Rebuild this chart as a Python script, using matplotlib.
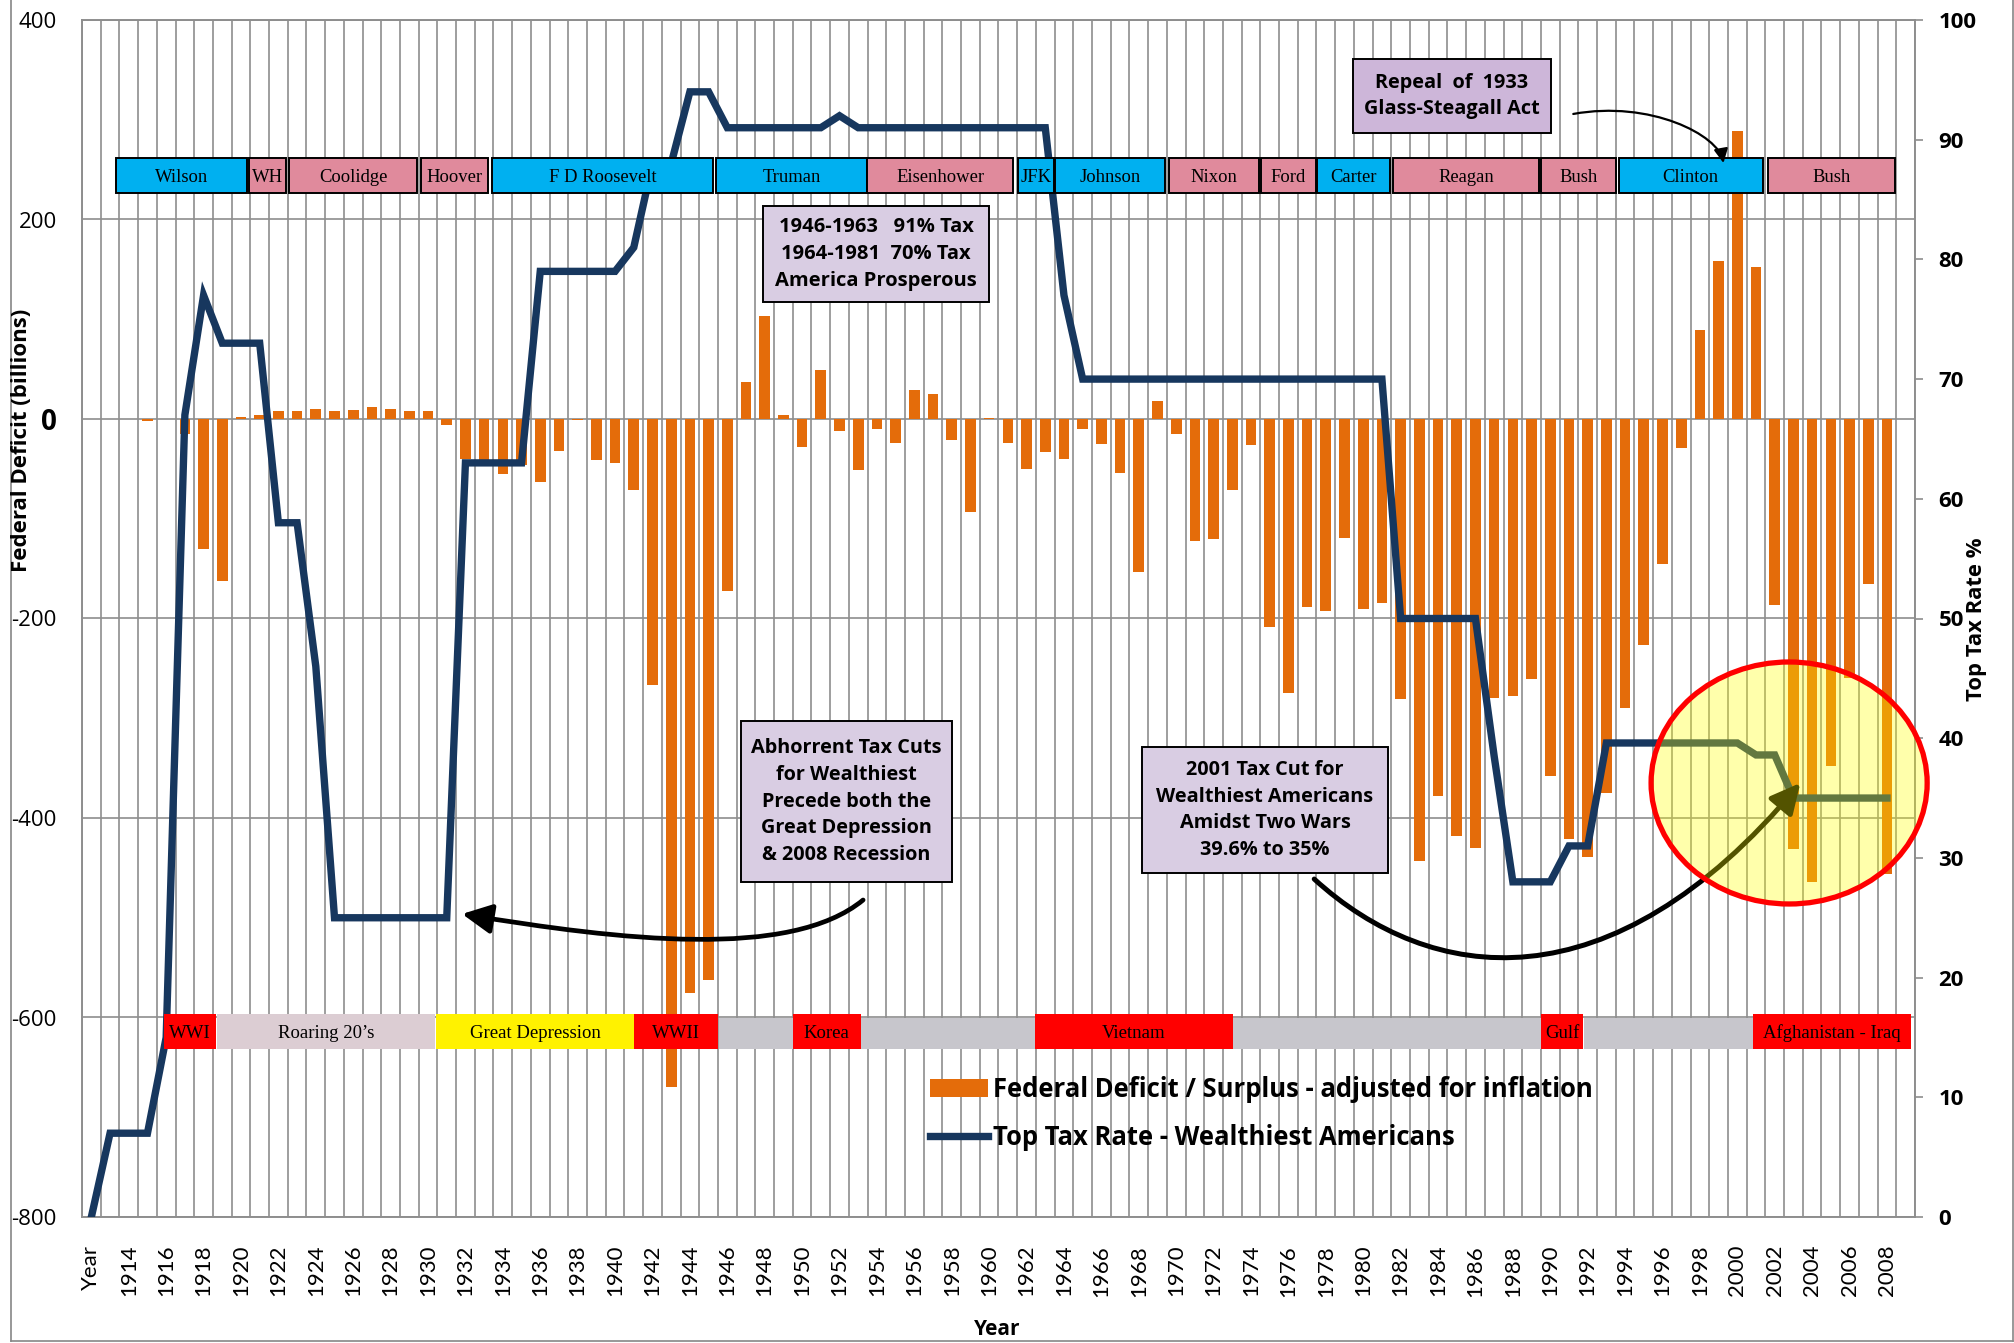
import numpy as np
import matplotlib
matplotlib.use("Agg")
import matplotlib.pyplot as plt
from matplotlib.patches import Rectangle, Ellipse, FancyArrowPatch, Patch
from matplotlib.lines import Line2D
from matplotlib.path import Path

# ---------------- data ----------------
years = list(range(1913, 2010))
categories = ["Year"] + [str(y) for y in years]

deficit = ([np.nan]
           + [0, 0, -2, 0, -15, -130, -162, 2, 4, 8]            # 1913-1922
           + [8, 10, 8, 9, 12, 10, 8, 8, -6, -40]               # 1923-1932
           + [-42, -55, -46, -63, -32, -1, -41, -44, -71, -267]  # 1933-1942
           + [-670, -575, -562, -172, 37, 103, 4, -28, 49, -12]  # 1943-1952
           + [-51, -10, -24, 29, 25, -21, -93, 1, -24, -50]      # 1953-1962
           + [-33, -40, -10, -25, -54, -153, 18, -15, -122, -120]  # 1963-1972
           + [-71, -26, -209, -275, -188, -192, -119, -190, -184, -281]  # 1973-1982
           + [-443, -378, -418, -430, -280, -278, -261, -358, -421, -439]  # 1983-1992
           + [-375, -290, -227, -145, -29, 89, 158, 289, 152, -186]  # 1993-2002
           + [-431, -464, -348, -260, -165, -456, np.nan])       # 2003-2009

tax_rate = ([0]
            + [7, 7, 7, 15, 67, 77, 73, 73, 73, 58]
            + [58, 46, 25, 25, 25, 25, 25, 25, 25, 63]
            + [63, 63, 63, 79, 79, 79, 79, 79, 81, 88]
            + [88, 94, 94, 91, 91, 91, 91, 91, 91, 92]
            + [91, 91, 91, 91, 91, 91, 91, 91, 91, 91]
            + [91, 77, 70, 70, 70, 70, 70, 70, 70, 70]
            + [70, 70, 70, 70, 70, 70, 70, 70, 70, 50]
            + [50, 50, 50, 50, 38.5, 28, 28, 28, 31, 31]
            + [39.6, 39.6, 39.6, 39.6, 39.6, 39.6, 39.6, 39.6, 38.6, 38.6]
            + [35, 35, 35, 35, 35, 35, np.nan])

pres_names = ["Wilson", "WH", "Coolidge", "Hoover", "F D Roosevelt", "Truman",
              "Eisenhower", "JFK", "Johnson", "Nixon", "Ford", "Carter",
              "Reagan", "Bush", "Clinton", "Bush"]
pres_start = [1913.32, 1920.45, 1922.59, 1929.60, 1933.41, 1945.39, 1953.47,
              1961.55, 1963.53, 1969.62, 1974.52, 1977.53, 1981.60, 1989.50,
              1993.66, 2001.62]
pres_end = [1920.32, 1922.43, 1929.42, 1933.22, 1945.25, 1953.47, 1961.30,
            1963.46, 1969.39, 1974.42, 1977.47, 1981.45, 1989.41, 1993.52,
            2001.36, 2008.45]
pres_party = ["D", "R", "R", "R", "D", "D", "R", "D", "D", "R", "R", "D",
              "R", "R", "D", "R"]

era_names = ["WWI", "Roaring 20\u2019s", "Great Depression", "WWII", "", "Korea",
             "", "Vietnam", "", "Gulf", "", "Afghanistan - Iraq"]
era_start = [1915.86, 1918.72, 1930.45, 1940.99, 1945.54, 1949.49, 1953.13,
             1962.44, 1973.05, 1989.50, 1991.78, 2000.84]
era_end = [1918.67, 1930.38, 1940.99, 1945.48, 1949.49, 1953.13, 1962.44,
           1973.05, 1989.50, 1991.76, 2000.84, 2009.29]
era_kind = ["war", "boom", "dep", "war", "peace", "war", "peace", "war",
            "peace", "war", "peace", "war"]

# ---------------- styles ----------------
W, H = 2015, 1343
ORANGE = "#E46C0A"
NAVY = "#17375E"
GRID = "#8E8E8E"
BLUE = "#00B0F0"
PINK = "#E08A9C"
LAV1 = "#D9CDE3"
LAV2 = "#CDB6D9"
era_colors = {"war": "#FF0000", "boom": "#DCCDD3", "dep": "#FFF200", "peace": "#C7C6CC"}
SANS = ["Lato", "DejaVu Sans"]
BOLD = ["Open Sans", "DejaVu Sans"]
SERIF = ["Liberation Serif", "DejaVu Serif"]

fig = plt.figure(figsize=(W / 100, H / 100), dpi=100)
L, R, T, B = 82, 1915, 20, 1217
ax = fig.add_axes([L / W, 1 - B / H, (R - L) / W, (B - T) / H])
ax2 = ax.twinx()

n = len(categories)
x = np.arange(n)
base = 1912  # year -> category index

ax.set_xlim(-0.5, n - 0.5)
ax.set_ylim(-800, 400)
ax2.set_ylim(0, 100)

# grid
ax.set_axisbelow(True)
yt = np.arange(-800, 401, 200)
ax.set_yticks(yt)
ax.set_yticklabels([str(v) for v in yt], fontfamily="Open Sans", fontsize=16)
for lbl in ax.get_yticklabels():
    if lbl.get_text() == "0":
        lbl.set_fontweight("bold")
        lbl.set_fontsize(20)
ax.grid(axis="y", which="major", color=GRID, lw=1.2)
ax.set_xticks(np.arange(-0.5, n, 1), minor=True)
ax.grid(axis="x", which="minor", color=GRID, lw=1.2)
ax.set_xticks(x[::2])
ax.set_xticklabels(categories[::2], rotation=90, fontfamily=SANS, fontsize=16)
ax.tick_params(axis="x", which="both", length=0, pad=20)
ax.tick_params(axis="y", which="both", length=0, pad=18)

rt = np.arange(0, 101, 10)
ax2.set_yticks(rt)
ax2.set_yticklabels([str(v) for v in rt], fontfamily="Open Sans", fontweight="bold", fontsize=16)
ax2.tick_params(axis="y", length=6, width=1.2, color=GRID, direction="out", pad=11)

for a in (ax, ax2):
    for s in a.spines.values():
        s.set_color(GRID)
        s.set_linewidth(1.2)

# bars
dv = np.array(deficit, dtype=float)
mask = ~np.isnan(dv)
ax.bar(x[mask], dv[mask], width=0.57, color=ORANGE, zorder=2,
       label="Federal Deficit / Surplus - adjusted for inflation")

# tax line
tv = np.array(tax_rate, dtype=float)
ax2.plot(x, tv, color=NAVY, lw=5.3, solid_joinstyle="miter", zorder=3,
         label="Top Tax Rate - Wealthiest Americans")

renderer = fig.canvas.get_renderer()


def fit_width(txt, target):
    w = txt.get_window_extent(renderer).width
    txt.set_fontsize(txt.get_fontsize() * target / w)


def fit_height(txt, target):
    h = txt.get_window_extent(renderer).height
    txt.set_fontsize(txt.get_fontsize() * target / h)


tr = ax.transData

# president bands
py0, py1 = 226.3, 261.2
ptexts = []
for name, s, e, p in zip(pres_names, pres_start, pres_end, pres_party):
    x0, x1 = s - base, e - base
    ax2.add_patch(Rectangle((x0, py0), x1 - x0, py1 - py0, transform=tr,
                            facecolor=BLUE if p == "D" else PINK,
                            edgecolor="black", lw=1.4, zorder=6))
    t = ax2.text((x0 + x1) / 2, (py0 + py1) / 2 - 2, name, transform=tr,
                 ha="center", va="center", fontfamily=SERIF, fontsize=13, zorder=7)
    ptexts.append(t)
ref = ptexts[2]
fit_width(ref, 68)
for t in ptexts:
    t.set_fontsize(ref.get_fontsize())

# era bands
ey0, ey1 = -631.2, -596.5
etexts = []
for name, s, e, k in zip(era_names, era_start, era_end, era_kind):
    x0, x1 = s - base, e - base
    top = ey1 - 4 if k == "peace" else ey1
    ax2.add_patch(Rectangle((x0, ey0), x1 - x0, top - ey0, transform=tr,
                            facecolor=era_colors[k], edgecolor="none", zorder=6))
    if name:
        t = ax2.text((x0 + x1) / 2, (ey0 + ey1) / 2 - 2, name, transform=tr,
                     ha="center", va="center", fontfamily=SERIF, fontsize=13, zorder=7)
        etexts.append(t)
fit_width(etexts[1], 96)
for t in etexts:
    t.set_fontsize(etexts[1].get_fontsize())


# text boxes
def note(x0, x1, y0, y1, text, color, target_w, ls=1.3):
    ax2.add_patch(Rectangle((x0, y0), x1 - x0, y1 - y0, transform=tr,
                            facecolor=color, edgecolor="black", lw=1.4, zorder=6))
    t = ax2.text((x0 + x1) / 2, (y0 + y1) / 2, text, transform=tr, ha="center",
                 va="center", multialignment="center", fontfamily=BOLD,
                 fontweight="bold", fontsize=15, linespacing=ls, zorder=7)
    fit_width(t, target_w)
    return t


note(35.92, 48.0, 117.0, 213.5, "1946-1963   91% Tax\n1964-1981  70% Tax\nAmerica Prosperous",
     LAV1, 202, ls=1.45)
note(67.44, 78.04, 287.1, 360.5, "Repeal  of  1933\nGlass-Steagall Act", LAV2, 176, ls=1.45)
note(34.74, 45.99, -464.2, -302.8,
     "Abhorrent Tax Cuts\nfor Wealthiest\nPrecede both the\nGreat Depression\n& 2008 Recession",
     LAV1, 191, ls=1.45)
note(56.17, 69.33, -455.1, -328.8,
     "2001 Tax Cut for\nWealthiest Americans\nAmidst Two Wars\n39.6% to 35%", LAV1, 218, ls=1.45)

# arrows
codes = [Path.MOVETO, Path.CURVE4, Path.CURVE4, Path.CURVE4]
a1 = FancyArrowPatch(path=Path([(41.26, -482.2), (37.36, -542.4), (28.27, -522.3), (19.82, -496.2)], codes),
                     arrowstyle="-|>,head_length=0.9,head_width=0.45", mutation_scale=20,
                     lw=3.4, color="black", transform=tr, zorder=8)
ax2.add_patch(a1)
a3 = FancyArrowPatch(path=Path([(65.38, -461.2), (71.59, -567.4), (81.21, -592.5), (91.37, -364.9)], codes),
                     arrowstyle="-|>,head_length=0.9,head_width=0.45", mutation_scale=20,
                     lw=3.6, color="black", transform=tr, zorder=8)
ax2.add_patch(a3)
a2 = FancyArrowPatch(path=Path([(79.23, 305.8), (83.35, 319.8), (86.99, 284.7), (87.26, 256.6)], codes),
                     arrowstyle="-|>,head_length=0.6,head_width=0.3", mutation_scale=14,
                     lw=1.6, color="black", transform=tr, zorder=8)
ax2.add_patch(a2)

# highlight ellipse
ax2.add_patch(Ellipse((90.77, -364.9), 14.76, 242.6, transform=tr,
                      facecolor=(1, 1, 0, 0.33), edgecolor="#FF0000", lw=3.8,
                      zorder=9, clip_on=False))

# legend
tmp = fig.text(0, 0, "Federal Deficit / Surplus - adjusted for inflation",
               fontfamily=BOLD, fontweight="bold", fontsize=18)
fit_width(tmp, 601)
fs = tmp.get_fontsize()
tmp.remove()
fs_px = fs * 100 / 72
h1 = Patch(facecolor=ORANGE, edgecolor="none")
h2 = Line2D([], [], color=NAVY, lw=5.3)
leg = ax2.legend([h1, h2], ["Federal Deficit / Surplus - adjusted for inflation",
                            "Top Tax Rate - Wealthiest Americans"],
                 loc="upper left", bbox_to_anchor=(930 / W, 1 - 1076 / H),
                 bbox_transform=fig.transFigure, frameon=False,
                 prop=dict(family=BOLD, weight="bold", size=fs),
                 handlelength=58 / fs_px, handleheight=0.7,
                 handletextpad=5 / fs_px, labelspacing=0.8,
                 borderpad=0, borderaxespad=0)
leg.set_zorder(10)

# axis titles
yl = fig.text(22 / W, 1 - 440 / H, "Federal Deficit (billions)", rotation=90,
              ha="center", va="center", fontfamily=BOLD, fontweight="bold", fontsize=15)
fit_height(yl, 263)
yr = fig.text(1977 / W, 1 - 619 / H, "Top Tax Rate %", rotation=90,
              ha="center", va="center", fontfamily=BOLD, fontweight="bold", fontsize=15)
fit_height(yr, 163)
fig.text(997 / W, 1 - 1340 / H, "Year", ha="center", va="bottom",
         fontfamily=BOLD, fontweight="bold", fontsize=15)

# chart border
bc = "#868686"
fig.add_artist(Line2D([11 / W, 11 / W], [1 - 1341 / H, 1], color=bc, lw=1.2, transform=fig.transFigure))
fig.add_artist(Line2D([11 / W, 2013 / W], [1 - 1341 / H, 1 - 1341 / H], color=bc, lw=1.2, transform=fig.transFigure))
fig.add_artist(Line2D([2013 / W, 2013 / W], [1 - 1341 / H, 1], color=bc, lw=1.2, transform=fig.transFigure))

fig.savefig("out.png", dpi=100)
